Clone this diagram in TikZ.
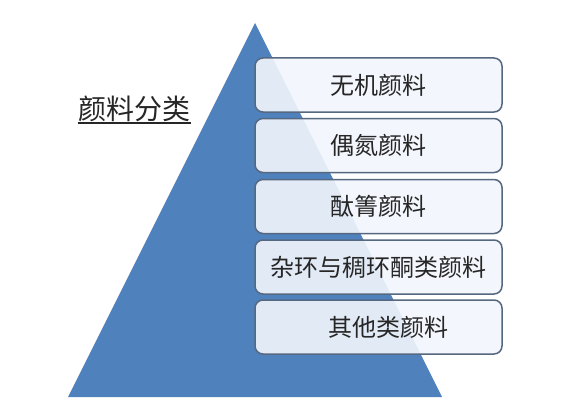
\documentclass[tikz,border=0pt]{standalone}
\usepackage{fontspec}
\newfontfamily\cjk{Noto Sans CJK SC}
\definecolor{triblue}{RGB}{79,129,189}
\definecolor{boxfill}{RGB}{242,246,252}
\definecolor{boxline}{RGB}{86,104,128}
\tikzset{
  catbox/.style={draw=boxline, line width=1.5pt, rounded corners=8pt,
    fill=boxfill, fill opacity=0.9, text opacity=1,
    minimum width=247pt, minimum height=54pt, inner sep=0pt,
    font=\cjk\fontsize{24pt}{24pt}\selectfont, text=black!85},
  titletext/.style={font=\cjk\fontsize{28pt}{28pt}\selectfont, text=black!85, inner sep=0pt}
}
\begin{document}
\begin{tikzpicture}[x=1pt,y=-1pt]
\useasboundingbox (0,0) rectangle (576,420);
\fill[white] (0,0) rectangle (576,420);
\coordinate (apex) at (255,23);
\coordinate (bl) at (68,397);
\coordinate (br) at (442,397);
\fill[triblue] (apex) -- (br) -- (bl) -- cycle;
\node[titletext, anchor=base] (title) at (134.5,119) {颜料分类};
\draw[black!85, line width=1.2pt] ([yshift=-4pt]title.base west) -- ([yshift=-4pt]title.base east);
\node[catbox] (b1) at (378.5,85) {无机颜料};
\node[catbox] (b2) at (378.5,145.5) {偶氮颜料};
\node[catbox] (b3) at (378.5,206.5) {酞箐颜料};
\node[catbox] (b4) at (378.5,267) {杂环与稠环酮类颜料};
\node[catbox] (b5) at (378.5,327) {\hspace*{20pt}其他类颜料};
\end{tikzpicture}
\end{document}
